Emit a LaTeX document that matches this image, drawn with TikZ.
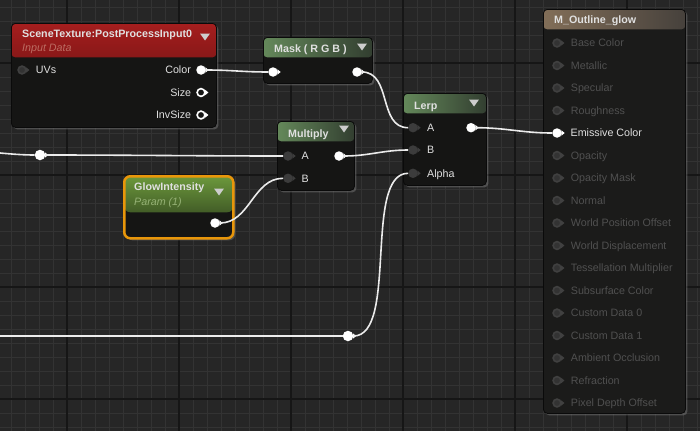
\documentclass[tikz,border=0pt]{standalone}
\usepackage{fontspec}
\setmainfont{Liberation Sans}
\usetikzlibrary{positioning,shadows}

\definecolor{gridbg}{RGB}{38,38,38}
\definecolor{gridminor}{RGB}{51,51,51}
\definecolor{gridmajor}{RGB}{22,22,22}
\definecolor{nodebody}{RGB}{21,21,20}
\definecolor{matbody}{RGB}{27,27,26}
\definecolor{nodeedge}{RGB}{10,10,10}
\definecolor{labeltext}{RGB}{224,224,224}
\definecolor{dimtext}{RGB}{80,80,80}
\definecolor{pingray}{RGB}{60,60,60}
\definecolor{pinrim}{RGB}{64,64,64}
\definecolor{redtop}{RGB}{165,30,30}
\definecolor{redbot}{RGB}{78,12,12}
\definecolor{greenL}{RGB}{100,136,90}
\definecolor{greenR}{RGB}{50,62,48}
\definecolor{glowtop}{RGB}{108,152,60}
\definecolor{glowbot}{RGB}{36,50,24}
\definecolor{brownL}{RGB}{130,110,88}
\definecolor{brownR}{RGB}{70,65,60}
\definecolor{subred}{RGB}{188,108,98}
\definecolor{subgreen}{RGB}{150,178,118}
\definecolor{selorange}{RGB}{232,150,10}
\definecolor{ddgray}{RGB}{205,205,205}

\begin{document}
\begin{tikzpicture}[
    x=1pt, y=-1pt,
    every node/.style={font=\fontsize{10.7}{12}\selectfont, text=labeltext},
    uenode/.style={rectangle, rounded corners=4pt, draw=nodeedge, line width=0.8pt, fill=nodebody, anchor=north west, inner sep=0pt, drop shadow={shadow xshift=2pt, shadow yshift=-2pt, opacity=.45}},
    head/.style 2 args={path picture={\shade[#2] (path picture bounding box.north west) rectangle ([yshift=-#1]path picture bounding box.north east);}},
    selected/.style={draw=selorange, line width=2.5pt, rounded corners=6pt},
    title/.style={anchor=west, inner sep=0pt, text height=7.6pt, text depth=0pt, font=\fontsize{10.7}{12}\selectfont\bfseries},
    subtitle/.style={anchor=west, inner sep=0pt, text height=7.6pt, text depth=0pt, font=\fontsize{10.7}{12}\selectfont\itshape},
    pinlabel/.style={inner sep=0pt, text height=7.6pt, text depth=0pt},
    matlabel/.style={pinlabel, text=dimtext},
    pinon/.style={circle, fill=white, inner sep=0pt, minimum size=9.5pt},
    pinoff/.style={circle, fill=pingray, inner sep=0pt, minimum size=9.5pt},
    pinring/.style={circle, draw=white, fill=nodebody, line width=1.6pt, inner sep=0pt, minimum size=7.8pt},
    pindim/.style={circle, draw=pinrim, fill=black!80, line width=1.6pt, inner sep=0pt, minimum size=7.8pt},
    reroute/.style={circle, fill=white, inner sep=0pt, minimum size=10.5pt},
    wire/.style={draw=white!92!black, line width=1.6pt}
  ]

  \useasboundingbox (0,0) rectangle (700,431);
  \clip (0,0) rectangle (700,431);

  % Grid
  \fill[gridbg] (0,0) rectangle (700,431);
  \foreach \x in {11,25,...,697} \draw[gridminor, line width=1pt] (\x,0) -- (\x,431);
  \foreach \y in {7,21,...,427} \draw[gridminor, line width=1pt] (0,\y) -- (700,\y);
  \foreach \x in {67,179,...,627} \draw[gridmajor, line width=2pt] (\x,0) -- (\x,431);
  \foreach \y in {63,175,...,399} \draw[gridmajor, line width=2pt] (0,\y) -- (700,\y);

  % Nodes
  \node[uenode, head={34pt}{top color=redtop, bottom color=redbot}, minimum width=205pt, minimum height=104pt] (scenetex) at (11,23) {};
  \node[uenode, head={20pt}{left color=greenL, right color=greenR}, minimum width=109pt, minimum height=46pt] (mask) at (263,37) {};
  \node[uenode, head={20pt}{left color=greenL, right color=greenR}, minimum width=83pt, minimum height=92pt] (lerp) at (403,93) {};
  \node[uenode, head={20pt}{left color=greenL, right color=greenR}, minimum width=77pt, minimum height=69pt] (multiply) at (277,121) {};
  \node[uenode, selected, head={36pt}{top color=glowtop, bottom color=glowbot}, minimum width=109pt, minimum height=62pt] (glow) at (123,175) {};
  \node[uenode, fill=matbody, head={20pt}{left color=brownL, right color=brownR}, minimum width=142pt, minimum height=404pt] (material) at (543,9) {};

  % Titles
  \node[title] (scenetex-t) at (22,33.5) {SceneTexture:PostProcessInput0};
  \node[subtitle, text=subred] (scenetex-s) at (22,48) {Input Data};
  \node[title] (mask-t) at (274,49) {Mask ( R G B )};
  \node[title] (lerp-t) at (414,105.5) {Lerp};
  \node[title] (multiply-t) at (288,133.3) {Multiply};
  \node[title] (glow-t) at (134,186.7) {GlowIntensity};
  \node[subtitle, text=subgreen] (glow-s) at (134,202) {Param (1)};
  \node[title] (material-t) at (554,20) {M\_Outline\_glow};

  \foreach \x/\y in {205/37, 362/47, 474/103, 344/129, 219/192}
    \fill[ddgray] (\x-5,\y-3.5) -- (\x+5,\y-3.5) -- (\x,\y+3.5) -- cycle;

  % Pins
  \node[pinring, draw=pinrim, fill=black!80] (uvs) at (22,70) {};
  \node[pinon] (color) at (201,70) {};
  \node[pinring] (size) at (201,92.5) {};
  \node[pinring] (invsize) at (201,115) {};
  \node[pinon] (mask-in) at (273,72) {};
  \node[pinon] (mask-out) at (357,72) {};
  \node[pinoff] (lerp-a) at (413,127.7) {};
  \node[pinoff] (lerp-b) at (413,150) {};
  \node[pinoff] (lerp-alpha) at (413,173.3) {};
  \node[pinon] (lerp-out) at (471,127.7) {};
  \node[pinoff] (multiply-a) at (288,156) {};
  \node[pinoff] (multiply-b) at (288,178.3) {};
  \node[pinon] (multiply-out) at (339,156) {};
  \node[pinon] (glow-out) at (215,223) {};
  \node[reroute] (reroute1) at (40,155) {};
  \node[reroute] (reroute2) at (348,336) {};
  \node[pinon] (emissive) at (557,133) {};

  \foreach \p/\c in {uvs/pinrim, color/white, size/white, invsize/white, mask-in/white, mask-out/white,
      lerp-a/pingray, lerp-b/pingray, lerp-alpha/pingray, lerp-out/white, multiply-a/pingray,
      multiply-b/pingray, multiply-out/white, glow-out/white, reroute1/white, reroute2/white, emissive/white}
    \fill[\c] ([xshift=-.5pt,yshift=2.7pt]\p.east) -- ([xshift=2.7pt]\p.east) -- ([xshift=-.5pt,yshift=-2.7pt]\p.east) -- cycle;

  \node[pinlabel, right=9pt of uvs] (uvs-t) {UVs};
  \node[pinlabel, left=5pt of color] (color-t) {Color};
  \node[pinlabel, left=5pt of size] (size-t) {Size};
  \node[pinlabel, left=5pt of invsize] (invsize-t) {InvSize};
  \node[pinlabel, right=9pt of lerp-a] (lerp-a-t) {A};
  \node[pinlabel, right=9pt of lerp-b] (lerp-b-t) {B};
  \node[pinlabel, right=9pt of lerp-alpha] (lerp-alpha-t) {Alpha};
  \node[pinlabel, right=8.5pt of multiply-a] (multiply-a-t) {A};
  \node[pinlabel, right=8.5pt of multiply-b] (multiply-b-t) {B};
  \node[pinlabel, right=8.5pt of emissive] (emissive-t) {Emissive Color};

  % Material inputs
  \foreach \i/\txt in {0/Base Color, 1/Metallic, 2/Specular, 3/Roughness, 5/Opacity, 6/Opacity Mask,
      7/Normal, 8/World Position Offset, 9/World Displacement, 10/Tessellation Multiplier,
      11/Subsurface Color, 12/Custom Data 0, 13/Custom Data 1, 14/Ambient Occlusion,
      15/Refraction, 16/Pixel Depth Offset}{
    \node[pindim] (mat\i) at (557,{43+22.5*\i}) {};
    \fill[pinrim] ([xshift=-.5pt,yshift=2.7pt]mat\i.east) -- ([xshift=2.7pt]mat\i.east) -- ([xshift=-.5pt,yshift=-2.7pt]mat\i.east) -- cycle;
    \node[matlabel, right=9pt of mat\i] (mat\i-t) {\txt};
  }

  % Wires
  \coordinate (offA) at (-40,150.5);
  \coordinate (offB) at (-40,336);
  \draw[wire] (offA) .. controls +(25,0) and +(-25,0) .. (reroute1.west);
  \draw[wire] (reroute1.east) .. controls +(80,0) and +(-80,0) .. (multiply-a.west);
  \draw[wire] (multiply-out.east) .. controls +(25,0) and +(-25,0) .. (lerp-b.west);
  \draw[wire] (color.east) .. controls +(25,0) and +(-25,0) .. (mask-in.west);
  \draw[wire] (mask-out.east) .. controls +(30,0) and +(-30,0) .. (lerp-a.west);
  \draw[wire] (lerp-out.east) .. controls +(30,0) and +(-30,0) .. (emissive.west);
  \draw[wire] (glow-out.east) .. controls +(30,0) and +(-30,0) .. (multiply-b.west);
  \draw[wire] (offB) -- (reroute2.west);
  \draw[wire] (reroute2.east) .. controls +(45,0) and +(-45,0) .. (lerp-alpha.west);

\end{tikzpicture}
\end{document}
